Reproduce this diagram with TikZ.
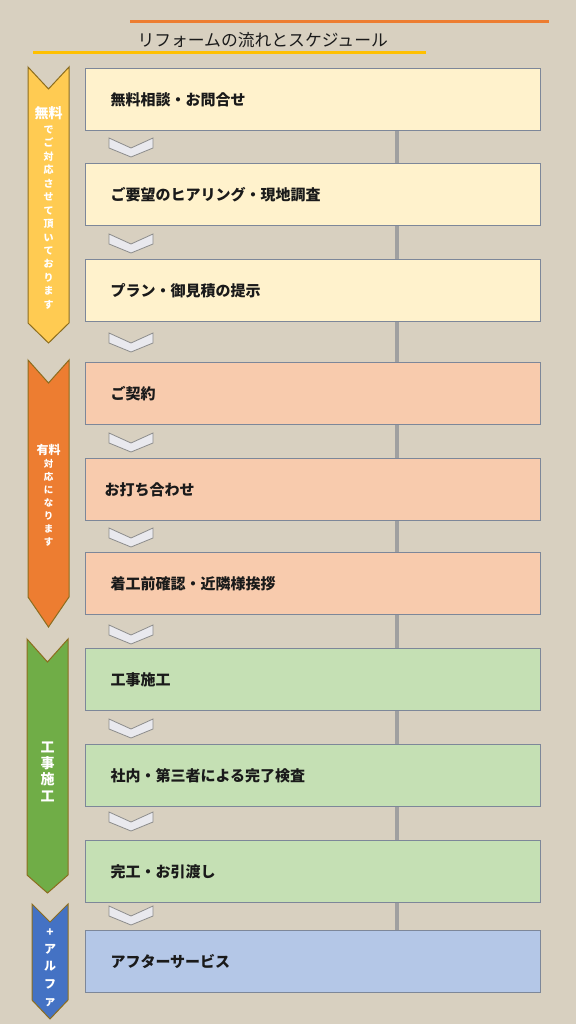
\documentclass[tikz,border=0pt]{standalone}
\usepackage{fontspec}
\usepackage{xcolor}
\newfontfamily\jp{Noto Sans CJK JP}
\usetikzlibrary{backgrounds}
\definecolor{linen}{HTML}{D8D0C0}
\definecolor{ink}{HTML}{1A1A1A}
\definecolor{boxline}{HTML}{7D8799}
\definecolor{boxyellow}{HTML}{FFF2CC}
\definecolor{boxorange}{HTML}{F8CBAD}
\definecolor{boxgreen}{HTML}{C5E0B4}
\definecolor{boxblue}{HTML}{B4C7E7}
\definecolor{bandyellow}{HTML}{FFCB52}
\definecolor{bandorange}{HTML}{ED7D31}
\definecolor{bandgreen}{HTML}{70AD47}
\definecolor{bandblue}{HTML}{4472C4}
\definecolor{bandline}{HTML}{8C6D1F}
\definecolor{chevfill}{HTML}{E9E9EE}
\definecolor{chevline}{HTML}{8C8C8C}
\definecolor{spinegray}{HTML}{A0A0A0}
\definecolor{titleorange}{HTML}{ED7D31}
\definecolor{titleyellow}{HTML}{FFC000}

\begin{document}
\begin{tikzpicture}[x=1pt, y=-1pt,
    stepbox/.style={draw=boxline, line width=1pt, minimum height=62pt,
      anchor=north west, inner xsep=25pt, text width=405pt, align=left,
      font=\jp\bfseries\fontsize{15}{17}\selectfont, text=ink},
    chev/.style={draw=chevline, fill=chevfill, line width=0.8pt},
    band/.style={draw=bandline, line width=1pt},
    bandtxt/.style={text=white, align=center, inner sep=0pt},
    spine/.style={draw=spinegray, line width=4pt}]
    \useasboundingbox (0,0) rectangle (576,1024);

    % title
    \draw[titleorange, line width=3pt] (130,22) -- (549,22);
    \draw[titleyellow, line width=3pt] (33,53) -- (426,53);
    \node[anchor=west, text=ink, font=\jp\fontsize{16.8}{18}\selectfont] (title) at (134,40) {リフォームの流れとスケジュール};

    % steps
    \node[stepbox, fill=boxyellow] (b1) at (85,68) {無料相談・お問合せ};
    \node[stepbox, fill=boxyellow] (b2) at (85,163) {ご要望のヒアリング・現地調査};
    \node[stepbox, fill=boxyellow] (b3) at (85,259) {プラン・御見積の提示};
    \node[stepbox, fill=boxorange] (b4) at (85,362) {ご契約};
    \node[stepbox, fill=boxorange, inner xsep=19pt, text width=417pt] (b5) at (85,458) {お打ち合わせ};
    \node[stepbox, fill=boxorange] (b6) at (85,552) {着工前確認・近隣様挨拶};
    \node[stepbox, fill=boxgreen] (b7) at (85,648) {工事施工};
    \node[stepbox, fill=boxgreen] (b8) at (85,744) {社内・第三者による完了検査};
    \node[stepbox, fill=boxgreen] (b9) at (85,840) {完工・お引渡し};
    \node[stepbox, fill=boxblue] (b10) at (85,930) {アフターサービス};

    \coordinate (spinex) at (397,0);
    \begin{scope}[on background layer]
        \fill[linen] (0,0) rectangle (576,1024);
        \draw[spine] (b1.south -| spinex) -- (b10.north -| spinex);
    \end{scope}

    % chevrons between steps
    \draw[chev] (109,138) -- ++(22,10) -- ++(22,-10) -- ++(0,10) -- ++(-22,9) -- ++(-22,-9) -- cycle;
    \draw[chev] (109,234) -- ++(22,10) -- ++(22,-10) -- ++(0,10) -- ++(-22,9) -- ++(-22,-9) -- cycle;
    \draw[chev] (109,333) -- ++(22,10) -- ++(22,-10) -- ++(0,10) -- ++(-22,9) -- ++(-22,-9) -- cycle;
    \draw[chev] (109,433) -- ++(22,10) -- ++(22,-10) -- ++(0,10) -- ++(-22,9) -- ++(-22,-9) -- cycle;
    \draw[chev] (109,528) -- ++(22,10) -- ++(22,-10) -- ++(0,10) -- ++(-22,9) -- ++(-22,-9) -- cycle;
    \draw[chev] (109,625) -- ++(22,10) -- ++(22,-10) -- ++(0,10) -- ++(-22,9) -- ++(-22,-9) -- cycle;
    \draw[chev] (109,719) -- ++(22,10) -- ++(22,-10) -- ++(0,10) -- ++(-22,9) -- ++(-22,-9) -- cycle;
    \draw[chev] (109,812) -- ++(22,10) -- ++(22,-10) -- ++(0,10) -- ++(-22,9) -- ++(-22,-9) -- cycle;
    \draw[chev] (109,906) -- ++(22,10) -- ++(22,-10) -- ++(0,10) -- ++(-22,9) -- ++(-22,-9) -- cycle;

    % side bands
    \draw[band, fill=bandyellow] (28,67) -- (48.5,89) -- (69,67) -- (69,323) -- (48.5,343) -- (28,323) -- cycle;
    \draw[band, fill=bandorange] (28,360) -- (48.5,383) -- (69,360) -- (69,597) -- (48.5,627) -- (28,597) -- cycle;
    \draw[band, fill=bandgreen] (27,639) -- (47.5,662) -- (68,639) -- (68,875) -- (47.5,893) -- (27,875) -- cycle;
    \draw[band, fill=bandblue] (32,904) -- (50,922) -- (68,904) -- (68,1000) -- (50,1019) -- (32,1000) -- cycle;

    \node[bandtxt, font=\jp\bfseries\fontsize{14}{15}\selectfont] (freehead) at (48.5,113) {無料};
    \node[bandtxt, font=\jp\bfseries\fontsize{10}{13.46}\selectfont] (freebody) at (48.5,217.5) {で\\ご\\対\\応\\さ\\せ\\て\\頂\\い\\て\\お\\り\\ま\\す};
    \node[bandtxt, font=\jp\bfseries\fontsize{12}{13}\selectfont] (paidhead) at (48.5,450) {有料};
    \node[bandtxt, font=\jp\bfseries\fontsize{9.5}{13}\selectfont] (paidbody) at (48.5,503) {対\\応\\に\\な\\り\\ま\\す};
    \node[bandtxt, font=\jp\bfseries\fontsize{14}{16.3}\selectfont] (worktxt) at (47.5,771.5) {工\\事\\施\\工};
    \node[bandtxt, font=\jp\bfseries\fontsize{12}{17.25}\selectfont] (alphatxt) at (50,967.5) {+\\ア\\ル\\フ\\ァ};
\end{tikzpicture}
\end{document}
